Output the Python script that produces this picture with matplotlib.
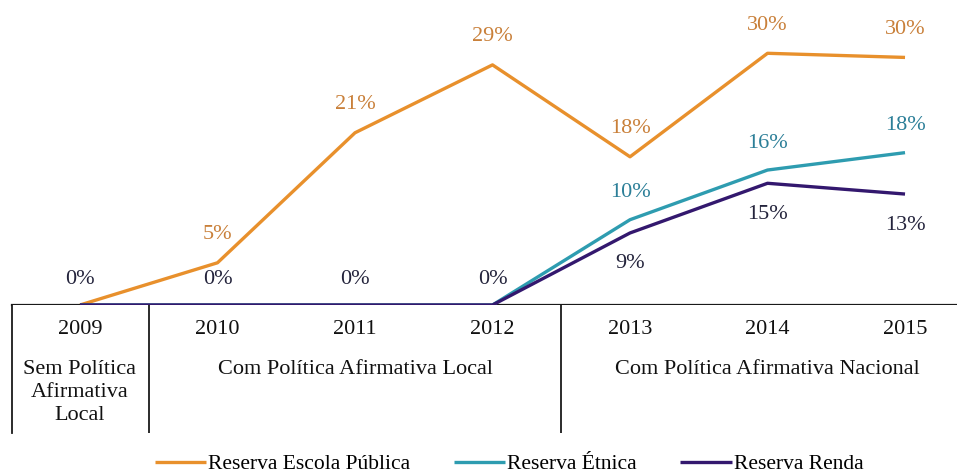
import matplotlib.pyplot as plt

# values (percent)
years = [2009, 2010, 2011, 2012, 2013, 2014, 2015]
escola_publica = [0, 5.1, 20.8, 29.0, 17.9, 30.4, 29.9]
etnica = [0, 0, 0, 0, 10.3, 16.3, 18.4]
renda = [0, 0, 0, 0, 8.7, 14.7, 13.4]

groups = ["Sem Política\nAfirmativa\nLocal", "Com Política Afirmativa Local",
          "Com Política Afirmativa Nacional"]
group_centers = [2009, 2011, 2014]
group_edges = [2009.5, 2012.5]

c_orange = "#E8902C"
c_teal = "#2E9CB0"
c_purple = "#33186E"
t_orange = "#C9803A"
t_teal = "#2C7F98"
t_dark = "#24243C"

plt.rcParams['font.family'] = ['Liberation Serif', 'DejaVu Serif']

W, H = 957, 476
fig = plt.figure(figsize=(W / 100, H / 100), dpi=100)

xl = (2008.5055, 2015.378)
base_px = 305
ax = fig.add_axes([12 / W, 1 - base_px / H, 945 / W, base_px / H])
ax.set_xlim(*xl)
ax.set_ylim(0, base_px / 8.28)

l1, = ax.plot(years, escola_publica, color=c_orange, lw=2.4, solid_capstyle='butt', zorder=2)
l2, = ax.plot(years, etnica, color=c_teal, lw=2.4, solid_capstyle='butt', zorder=3)
l3, = ax.plot(years, renda, color=c_purple, lw=2.4, solid_capstyle='butt', zorder=4)

fs = 16
px = 72 / 100  # points per pixel
for x, v in zip(years, escola_publica):
    if v > 0:
        ax.annotate(f"{round(v)}%", (x, v), xytext=(0, 28 * px), textcoords='offset points',
                    ha='center', va='center', color=t_orange, fontsize=fs)
for x, v in zip(years, etnica):
    if v > 0:
        ax.annotate(f"{round(v)}%", (x, v), xytext=(0, 27 * px), textcoords='offset points',
                    ha='center', va='center', color=t_teal, fontsize=fs)
for x, v in zip(years, renda):
    if v > 0:
        ax.annotate(f"{round(v)}%", (x, v), xytext=(0, -31 * px), textcoords='offset points',
                    ha='center', va='center', color=t_dark, fontsize=fs)
    else:
        ax.annotate(f"{round(v)}%", (x, v), xytext=(0, 25 * px), textcoords='offset points',
                    ha='center', va='center', color=t_dark, fontsize=fs)

for s in ['top', 'right', 'left']:
    ax.spines[s].set_visible(False)
ax.spines['bottom'].set_linewidth(1.6)
ax.spines['bottom'].set_color('#1a1a1a')
ax.set_xticks([])
ax.set_yticks([])
ax.patch.set_alpha(0)

# table below the chart
tb_top, tb_bot = base_px, 433
tab = fig.add_axes([12 / W, 1 - tb_bot / H, 945 / W, (tb_bot - tb_top) / H])
tab.set_xlim(*xl)
tab.set_ylim(tb_bot, tb_top)  # pixel rows, top to bottom
for s in ['top', 'right', 'bottom']:
    tab.spines[s].set_visible(False)
tab.spines['left'].set_linewidth(1.3)
tab.spines['left'].set_color('#1a1a1a')
tab.set_xticks([])
tab.set_yticks([])
for e in group_edges:
    tab.axvline(e, color='#1a1a1a', lw=1.3)
for x in years:
    tab.text(x, 330, str(x), ha='center', va='center', fontsize=fs, color='#111111')
for x, g in zip(group_centers, groups):
    for i, line in enumerate(g.split("\n")):
        tab.text(x, 370 + 22.5 * i, line, ha='center', va='center', fontsize=fs, color='#111111')

fig.legend([l1, l2, l3], ["Reserva Escola Pública", "Reserva Étnica", "Reserva Renda"],
           loc='center', bbox_to_anchor=(509 / W, 1 - 464 / H), ncol=3, frameon=False,
           fontsize=15.5, handlelength=2.4, handletextpad=0.1, columnspacing=2.0)

fig.savefig("out.png", dpi=100)
